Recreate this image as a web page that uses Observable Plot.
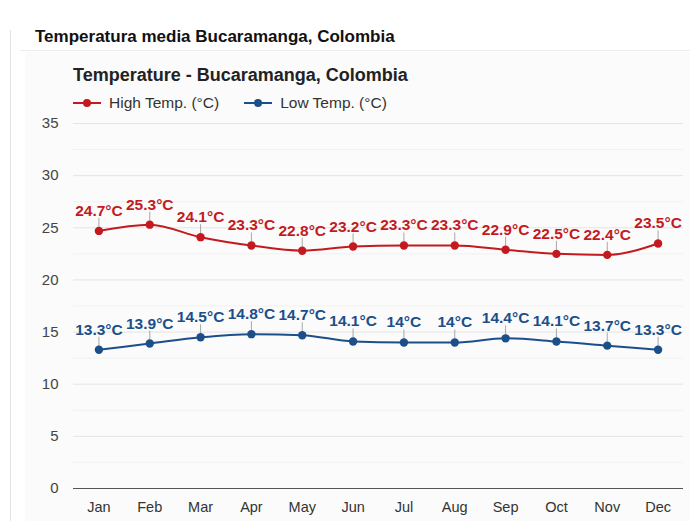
<!DOCTYPE html>
<html>
<head>
<meta charset="utf-8">
<script src="https://cdn.jsdelivr.net/npm/d3@7"></script>
<script src="https://cdn.jsdelivr.net/npm/@observablehq/plot@0.6"></script>
<style>
  html, body { margin: 0; padding: 0; background: #fff; width: 690px; height: 521px; overflow: hidden; font-family: "Liberation Sans", Arial, sans-serif; }
  #page { position: absolute; left: 10px; top: 30px; width: 680px; height: 491px; border-left: 1px solid #e3e3e3; }
  #title { position: absolute; left: 35px; top: 27px; font-size: 17px; font-weight: bold; color: #111; }
  #rule { position: absolute; left: 20px; top: 50px; width: 670px; height: 1px; background: #ececec; }
  #panel { position: absolute; left: 25px; top: 52px; width: 665px; height: 469px; background: #fafbfa; }
  #ctitle { position: absolute; left: 73px; top: 65px; font-size: 18px; font-weight: bold; color: #222; }
  #legend { position: absolute; left: 73px; top: 94px; font-size: 15.5px; color: #333; display: flex; gap: 25px; }
  .li { display: flex; align-items: center; }
  .sw { position: relative; width: 28px; height: 12px; margin-right: 8px; }
  .sw .ln { position: absolute; left: 0; top: 5px; width: 28px; height: 2px; }
  .sw .dt { position: absolute; left: 10px; top: 2px; width: 8px; height: 8px; border-radius: 50%; }
  #chart { position: absolute; left: 25px; top: 52px; }
</style>
</head>
<body>
<div id="page"></div>
<div id="title">Temperatura media Bucaramanga, Colombia</div>
<div id="rule"></div>
<div id="panel"></div>
<div id="chart"></div>
<div id="ctitle">Temperature - Bucaramanga, Colombia</div>
<div id="legend"></div>
<script>
const months = ["Jan","Feb","Mar","Apr","May","Jun","Jul","Aug","Sep","Oct","Nov","Dec"];
const highTemp = [24.7, 25.3, 24.1, 23.3, 22.8, 23.2, 23.3, 23.3, 22.9, 22.5, 22.4, 23.5];
const lowTemp  = [13.3, 13.9, 14.5, 14.8, 14.7, 14.1, 14.0, 14.0, 14.4, 14.1, 13.7, 13.3];
const yTicks = [0, 5, 10, 15, 20, 25, 30, 35];
const yMinorTicks = [2.5, 7.5, 12.5, 17.5, 22.5, 27.5, 32.5];
const seriesNames = ["High Temp. (°C)", "Low Temp. (°C)"];
const seriesColors = ["#c41a1f", "#1c4f8a"];

const rows = [];
months.forEach((m, i) => {
  rows.push({month: m, value: highTemp[i], series: seriesNames[0]});
  rows.push({month: m, value: lowTemp[i], series: seriesNames[1]});
});

const fmt = v => `${+v.toFixed(1)}°C`;
const tickSymbol = { draw(ctx) { ctx.moveTo(0, -4); ctx.lineTo(0, -13); } };

const chart = Plot.plot({
  width: 665,
  height: 469,
  marginTop: 71,
  marginBottom: 33,
  marginLeft: 48,
  marginRight: 7,
  style: { background: "transparent", fontFamily: "'Liberation Sans', Arial, sans-serif", fontSize: "14px", overflow: "visible" },
  x: { type: "point", domain: months, padding: 0.5, round: false, label: null },
  y: { domain: [0, 35], label: null },
  color: { domain: seriesNames, range: seriesColors },
  marks: [
    Plot.ruleY(yMinorTicks, { stroke: "#f1f1f1", strokeWidth: 1 }),
    Plot.ruleY(yTicks.filter(t => t > 0), { stroke: "#e4e4e4", strokeWidth: 1 }),
    Plot.ruleY([0], { stroke: "#555", strokeWidth: 1 }),
    Plot.axisY({ ticks: yTicks, tickSize: 0, tickPadding: 15, fill: "#444", fontSize: 15 }),
    Plot.axisX({ tickSize: 0, tickPadding: 13, fill: "#333", fontSize: 14.5 }),
    Plot.dot(rows, { x: "month", y: "value", symbol: tickSymbol, stroke: "#a8a8a8", strokeWidth: 1, r: 4 }),
    Plot.line(rows, { x: "month", y: "value", z: "series", stroke: "series", strokeWidth: 2, curve: "monotone-x" }),
    Plot.dot(rows, { x: "month", y: "value", fill: "series", r: 4.2 }),
    Plot.text(rows, { x: "month", y: "value", text: d => fmt(d.value), fill: "series", dy: -20, fontWeight: "bold", fontSize: 15.5 })
  ]
});
document.getElementById("chart").appendChild(chart);

const legend = document.getElementById("legend");
seriesNames.forEach((n, i) => {
  const li = document.createElement("div");
  li.className = "li";
  li.innerHTML = `<div class="sw"><div class="ln" style="background:${seriesColors[i]}"></div><div class="dt" style="background:${seriesColors[i]}"></div></div><span>${n}</span>`;
  legend.appendChild(li);
});
</script>
</body>
</html>
